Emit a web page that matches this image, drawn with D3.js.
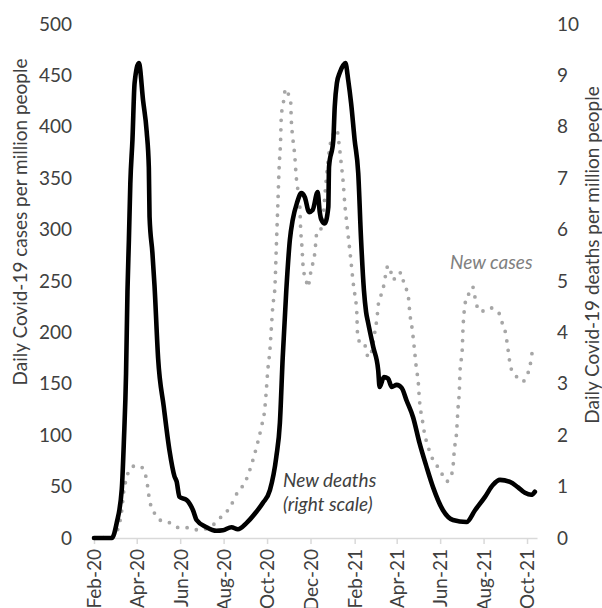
<!DOCTYPE html>
<html><head><meta charset="utf-8">
<script src="https://cdn.jsdelivr.net/npm/d3@7"></script>
<style>
body{margin:0;background:#fff}
svg{display:block}
text{font-family:Lato,"Open Sans",sans-serif}
</style>
</head><body>
<svg id="c" width="602" height="608"></svg>
<script>
// ---- DATA ----
const deathDates = [
 "2020-02-01","2020-02-26","2020-03-04","2020-03-11","2020-03-14","2020-03-17","2020-03-19","2020-03-21","2020-03-23","2020-03-26",
 "2020-03-29","2020-04-04","2020-04-10","2020-04-15","2020-04-18","2020-04-19","2020-04-23","2020-04-26","2020-05-01","2020-05-09",
 "2020-05-17","2020-05-24","2020-05-27","2020-05-31","2020-06-10","2020-06-19","2020-06-24","2020-07-08","2020-07-22","2020-07-31",
 "2020-08-12","2020-08-21","2020-09-02","2020-09-16","2020-09-25","2020-10-05","2020-10-14","2020-10-19","2020-10-23","2020-10-28",
 "2020-11-02","2020-11-06","2020-11-12","2020-11-18","2020-11-23","2020-11-29","2020-12-04","2020-12-11","2020-12-14","2020-12-16",
 "2020-12-21","2020-12-26","2020-12-27","2021-01-02","2021-01-04","2021-01-07","2021-01-11","2021-01-16","2021-01-19","2021-01-23",
 "2021-01-27","2021-02-01","2021-02-06","2021-02-10","2021-02-14","2021-02-17","2021-02-20","2021-02-27","2021-03-06","2021-03-08",
 "2021-03-14","2021-03-20","2021-03-25","2021-04-01","2021-04-08","2021-04-15","2021-04-24","2021-05-03","2021-05-13","2021-05-22",
 "2021-06-05","2021-06-19","2021-07-08","2021-07-20","2021-08-03","2021-08-14","2021-08-24","2021-09-07","2021-09-18","2021-09-28",
 "2021-10-07","2021-10-12"
];
const deathValues = [
 0,0,0.3,0.95,1.9,3.2,4.8,5.8,6.9,7.75,
 8.85,9.24,8.5,7.9,7.2,6.25,5.55,4.9,3.5,2.55,
 1.7,1.2,1.1,0.8,0.74,0.54,0.35,0.21,0.14,0.15,
 0.21,0.17,0.29,0.51,0.68,0.93,1.58,2.24,3.52,4.82,
 5.8,6.19,6.52,6.71,6.63,6.34,6.38,6.73,6.34,6.2,
 6.12,6.44,7.22,7.74,8.39,8.85,9.05,9.2,9.24,8.9,
 8.46,7.74,7.1,5.8,4.82,4.4,4.18,3.72,3.27,2.94,
 3.13,3.1,2.94,2.98,2.92,2.67,2.35,1.85,1.38,0.99,
 0.54,0.35,0.31,0.54,0.8,1.03,1.13,1.09,0.99,0.88,
 0.84,0.9
];
const caseDates = [
 "2020-02-01","2020-02-29","2020-03-06","2020-03-11","2020-03-14","2020-03-18","2020-03-21","2020-03-29","2020-04-05","2020-04-11",
 "2020-04-15","2020-04-19","2020-04-26","2020-05-03","2020-05-12","2020-05-31","2020-06-14","2020-06-24","2020-07-06","2020-07-17",
 "2020-07-27","2020-08-10","2020-08-21","2020-08-31","2020-09-09","2020-09-16","2020-09-23","2020-09-28","2020-09-30","2020-10-02",
 "2020-10-05","2020-10-07","2020-10-09","2020-10-12","2020-10-14","2020-10-16","2020-10-18","2020-10-20","2020-10-21","2020-10-24",
 "2020-10-27","2020-10-30","2020-11-03","2020-11-04","2020-11-06","2020-11-09","2020-11-11","2020-11-13","2020-11-16","2020-11-17",
 "2020-11-19","2020-11-21","2020-11-25","2020-11-27","2020-12-02","2020-12-07","2020-12-10","2020-12-14","2020-12-19","2020-12-23",
 "2020-12-28","2021-01-03","2021-01-07","2021-01-10","2021-01-13","2021-01-16","2021-01-18","2021-01-21","2021-01-24","2021-01-27",
 "2021-01-30","2021-02-01","2021-02-04","2021-02-05","2021-02-08","2021-02-15","2021-02-17","2021-02-22","2021-03-01","2021-03-04",
 "2021-03-07","2021-03-11","2021-03-13","2021-03-20","2021-03-25","2021-03-27","2021-04-03","2021-04-08","2021-04-10","2021-04-15",
 "2021-04-18","2021-04-19","2021-04-23","2021-04-26","2021-04-29","2021-05-01","2021-05-03","2021-05-07","2021-05-10","2021-05-15",
 "2021-05-20","2021-05-27","2021-06-03","2021-06-10","2021-06-15","2021-06-19","2021-06-21","2021-06-24","2021-06-26","2021-06-28",
 "2021-06-29","2021-07-02","2021-07-03","2021-07-05","2021-07-07","2021-07-10","2021-07-13","2021-07-17","2021-07-20","2021-07-23",
 "2021-07-28","2021-08-03","2021-08-10","2021-08-17","2021-08-24","2021-08-28","2021-09-01","2021-09-03","2021-09-05","2021-09-07",
 "2021-09-11","2021-09-18","2021-09-25","2021-10-01","2021-10-05","2021-10-07","2021-10-10"
];
const caseValues = [
 0,1,10,27,47,58,66,70,70,66,
 56,37,24,17.5,16.5,10,10,8,8.7,12.6,
 19.5,30,45,54,71,88,108,127,144,163,
 183,204,225,244,283,322,361,387,410,424,
 437,433,426,407,390,371,351,340,322,303,
 283,261,251,244,261,277,297,298,316,348,
 380,394,397,384,365,345,326,306,287,268,
 248,238,219,199,191,190,180,176,199,212,
 231,238,243,265,256,251,258,258,251,241,
 231,222,202,183,163,154,134,115,102,89,
 79,71,63,55,58,69,86,102,125,144,
 163,183,202,222,231,234,243,244,234,225,
 220,222,224,222,217,207,199,190,180,170,
 161,156,152,159,166,176,185
];
const xTickDates = ["2020-02-01","2020-04-01","2020-06-01","2020-08-01","2020-10-01","2020-12-01",
                    "2021-02-01","2021-04-01","2021-06-01","2021-08-01","2021-10-01"];
const xTickLabels = ["Feb-20","Apr-20","Jun-20","Aug-20","Oct-20","Dec-20",
                     "Feb-21","Apr-21","Jun-21","Aug-21","Oct-21"];
const leftTicks = [0,50,100,150,200,250,300,350,400,450,500];
const rightTicks = [0,1,2,3,4,5,6,7,8,9,10];
const leftTitle = "Daily Covid-19 cases per million people";
const rightTitle = "Daily Covid-19 deaths per million people";
const casesLabel = "New cases";
const deathsLabel = ["New deaths","(right scale)"];

// ---- CHART ----
const parse = d3.timeParse("%Y-%m-%d");
const svg = d3.select("#c");
const x = d3.scaleTime().domain([parse("2020-02-01"), parse("2021-10-15")]).range([94, 537]);
const yL = d3.scaleLinear().domain([0, 500]).range([538, 24]);
const yR = d3.scaleLinear().domain([0, 10]).range([538, 24]);

// font size fitted so the title length matches the original (~327px)
let fs = 20;
const probe = svg.append("text").style("font-size", "20px").text(leftTitle);
const len = probe.node().getComputedTextLength();
probe.remove();
if (len > 0) fs = 20 * 327 / len;
const textCol = "#404040";

// x axis
const xAxis = d3.axisBottom(x)
  .tickValues(xTickDates.map(parse))
  .tickFormat((d, i) => xTickLabels[i])
  .tickSizeInner(6).tickSizeOuter(0);
const gx = svg.append("g").attr("transform", "translate(0,538)").call(xAxis);
gx.select(".domain").attr("stroke", "#d9d9d9").attr("stroke-width", 1.5);
gx.selectAll(".tick line").attr("stroke", "#d9d9d9").attr("stroke-width", 1.5);
gx.selectAll(".tick text")
  .attr("transform", "rotate(-90)")
  .attr("x", -11).attr("y", 0).attr("dy", "0.36em")
  .style("text-anchor", "end")
  .style("font-size", fs + "px")
  .style("font-family", "Lato, 'Open Sans', sans-serif")
  .attr("fill", textCol);

// left axis
const gl = svg.append("g").attr("transform", "translate(94,0)")
  .call(d3.axisLeft(yL).tickValues(leftTicks).tickSize(0).tickPadding(22));
gl.select(".domain").remove();
gl.selectAll("text").style("font-size", fs + "px")
  .style("font-family", "Lato, 'Open Sans', sans-serif").attr("fill", textCol);

// right axis
const gr = svg.append("g").attr("transform", "translate(537,0)")
  .call(d3.axisRight(yR).tickValues(rightTicks).tickSize(0).tickPadding(20));
gr.select(".domain").remove();
gr.selectAll("text").style("font-size", fs + "px")
  .style("font-family", "Lato, 'Open Sans', sans-serif").attr("fill", textCol);

// axis titles
svg.append("text")
  .attr("transform", "translate(19,222) rotate(-90)")
  .attr("text-anchor", "middle").attr("dominant-baseline", "central")
  .style("font-size", fs + "px").attr("fill", textCol).text(leftTitle);
svg.append("text")
  .attr("transform", "translate(591,255) rotate(-90)")
  .attr("text-anchor", "middle").attr("dominant-baseline", "central")
  .style("font-size", fs + "px").attr("fill", textCol).text(rightTitle);

// series
const casesData = caseDates.map((d, i) => ({ date: parse(d), v: caseValues[i] }));
const deathsData = deathDates.map((d, i) => ({ date: parse(d), v: deathValues[i] }));

svg.append("path").datum(casesData)
  .attr("fill", "none").attr("stroke", "#a6a6a6").attr("stroke-width", 3.8)
  .attr("stroke-linecap", "round").attr("stroke-dasharray", "0 9.5")
  .attr("d", d3.line().x(d => x(d.date)).y(d => yL(d.v)).curve(d3.curveMonotoneX));

svg.append("path").datum(deathsData)
  .attr("fill", "none").attr("stroke", "#000").attr("stroke-width", 4.6)
  .attr("stroke-linejoin", "round").attr("stroke-linecap", "round")
  .attr("d", d3.line().x(d => x(d.date)).y(d => yR(d.v)).curve(d3.curveMonotoneX));

// annotations
svg.append("text").attr("x", 450).attr("y", 269)
  .style("font-size", fs + "px").style("font-style", "italic")
  .attr("fill", "#808080").text(casesLabel);
svg.append("text").attr("x", 283).attr("y", 487)
  .style("font-size", fs + "px").style("font-style", "italic")
  .attr("fill", textCol).text(deathsLabel[0]);
svg.append("text").attr("x", 283).attr("y", 511)
  .style("font-size", fs + "px").style("font-style", "italic")
  .attr("fill", textCol).text(deathsLabel[1]);
</script>
</body></html>
